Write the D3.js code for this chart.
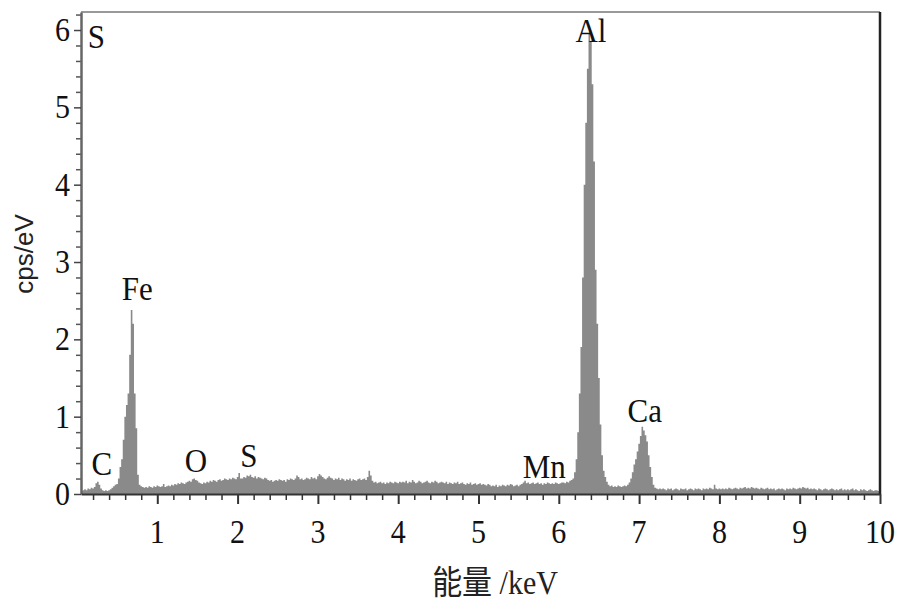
<!DOCTYPE html>
<html>
<head>
<meta charset="utf-8">
<script src="https://cdn.jsdelivr.net/npm/d3@7"></script>
<style>
  body { margin: 0; background: #fff; }
  svg { display: block; }
</style>
</head>
<body>
<div id="chart"></div>
<script>
//EDS spectrum, counts per channel
var channelStart = 0.05;   // keV of first channel
var channelWidth = 0.02;   // keV per channel

var counts = [
  // 0.05 - 0.55
  0.04,0.05,0.06,0.05,0.07,0.06,0.08,0.07,0.09,0.14,0.16,0.12,0.07,0.05,0.04,0.05,0.04,0.05,0.06,0.08,0.10,0.12,0.13,0.20,0.35,
  // 0.55 - 1.05  (Fe)
  0.45,0.70,1.00,1.15,1.30,1.80,2.38,2.20,1.30,0.85,0.25,0.12,0.10,0.09,0.08,0.09,0.08,0.10,0.09,0.08,0.10,0.09,0.11,0.10,0.09,
  // 1.05 - 1.55  (O)
  0.10,0.13,0.09,0.10,0.11,0.10,0.12,0.11,0.13,0.12,0.14,0.13,0.15,0.14,0.13,0.15,0.16,0.17,0.16,0.19,0.20,0.18,0.17,0.15,0.14,
  // 1.55 - 2.05
  0.13,0.15,0.14,0.16,0.15,0.17,0.16,0.18,0.17,0.16,0.18,0.19,0.17,0.18,0.20,0.19,0.18,0.20,0.19,0.21,0.20,0.19,0.22,0.27,0.20,
  // 2.05 - 2.55  (S)
  0.20,0.22,0.21,0.24,0.23,0.25,0.22,0.21,0.23,0.20,0.22,0.21,0.20,0.19,0.21,0.20,0.18,0.17,0.18,0.16,0.17,0.18,0.17,0.19,0.18,
  // 2.55 - 3.05
  0.17,0.18,0.16,0.19,0.18,0.20,0.19,0.18,0.20,0.24,0.22,0.19,0.20,0.18,0.19,0.21,0.20,0.19,0.22,0.20,0.21,0.19,0.23,0.26,0.24,
  // 3.05 - 3.55
  0.22,0.20,0.19,0.21,0.23,0.21,0.20,0.18,0.20,0.19,0.21,0.18,0.20,0.19,0.17,0.19,0.18,0.20,0.17,0.19,0.18,0.17,0.19,0.20,0.18,
  // 3.55 - 4.05
  0.19,0.20,0.18,0.22,0.30,0.24,0.17,0.15,0.16,0.14,0.15,0.16,0.14,0.15,0.13,0.15,0.14,0.16,0.15,0.14,0.16,0.15,0.14,0.16,0.15,
  // 4.05 - 4.55
  0.16,0.15,0.17,0.14,0.16,0.15,0.18,0.16,0.14,0.15,0.17,0.16,0.14,0.15,0.16,0.17,0.15,0.14,0.16,0.15,0.17,0.16,0.14,0.15,0.16,
  // 4.55 - 5.05
  0.15,0.14,0.16,0.13,0.15,0.14,0.13,0.15,0.14,0.16,0.13,0.14,0.15,0.13,0.12,0.14,0.13,0.15,0.12,0.13,0.14,0.12,0.13,0.14,0.12,
  // 5.05 - 5.55
  0.13,0.12,0.11,0.13,0.12,0.10,0.11,0.10,0.12,0.09,0.11,0.10,0.12,0.11,0.10,0.12,0.11,0.13,0.12,0.10,0.11,0.12,0.10,0.12,0.13,
  // 5.55 - 6.05  (Mn)
  0.15,0.17,0.14,0.15,0.13,0.14,0.15,0.13,0.14,0.15,0.13,0.14,0.12,0.14,0.13,0.15,0.14,0.13,0.14,0.13,0.15,0.14,0.13,0.14,0.15,
  // 6.05 - 6.55  (Al)
  0.15,0.14,0.16,0.15,0.17,0.18,0.20,0.28,0.45,0.80,1.30,1.90,2.80,4.00,4.80,5.50,5.95,5.85,5.30,4.30,2.90,2.20,1.50,0.90,0.50,
  // 6.55 - 7.05  (Ca)
  0.30,0.22,0.16,0.12,0.10,0.11,0.09,0.10,0.09,0.11,0.10,0.09,0.10,0.11,0.10,0.12,0.15,0.20,0.28,0.38,0.45,0.55,0.65,0.75,0.87,
  // 7.05 - 7.55
  0.82,0.76,0.68,0.50,0.35,0.22,0.12,0.08,0.07,0.06,0.07,0.06,0.07,0.06,0.05,0.07,0.06,0.07,0.05,0.06,0.07,0.06,0.05,0.07,0.06,
  // 7.55 - 8.05
  0.06,0.07,0.05,0.06,0.07,0.06,0.05,0.07,0.06,0.07,0.06,0.05,0.07,0.06,0.07,0.06,0.08,0.07,0.06,0.12,0.07,0.06,0.07,0.06,0.07,
  // 8.05 - 8.55
  0.06,0.07,0.06,0.08,0.07,0.06,0.07,0.08,0.07,0.06,0.08,0.07,0.08,0.09,0.07,0.08,0.07,0.09,0.08,0.07,0.08,0.07,0.06,0.08,0.07,
  // 8.55 - 9.05
  0.06,0.07,0.08,0.06,0.07,0.06,0.07,0.05,0.06,0.07,0.06,0.07,0.06,0.05,0.07,0.06,0.07,0.06,0.08,0.07,0.06,0.07,0.08,0.07,0.09,
  // 9.05 - 9.55
  0.08,0.07,0.08,0.06,0.07,0.06,0.07,0.06,0.05,0.07,0.06,0.05,0.06,0.07,0.06,0.05,0.06,0.07,0.06,0.05,0.06,0.05,0.06,0.07,0.05,
  // 9.55 - 10.05
  0.06,0.05,0.06,0.05,0.06,0.07,0.05,0.06,0.05,0.04,0.06,0.05,0.06,0.05,0.04,0.05,0.06,0.05,0.04,0.05,0.05,0.04,0.05,0.04,0.05
];

var xTicks = [1, 2, 3, 4, 5, 6, 7, 8, 9, 10];
var yTicks = [0, 1, 2, 3, 4, 5, 6];

// element labels, placed in data coords (keV, cps)
var peakNames = ["S", "Al", "Fe", "C", "O", "S", "Mn", "Ca"];
var peakKeV   = [0.24, 6.40, 0.75, 0.31, 1.48, 2.14, 5.82, 7.07];
var peakCps   = [5.77, 5.85, 2.51, 0.25, 0.28, 0.35, 0.21, 0.93];

var W = 906, H = 610;
var margin = { top: 12, right: 26, bottom: 116, left: 81 };
var width = W - margin.left - margin.right;
var height = H - margin.top - margin.bottom;

var serif = "Liberation Serif";
var stretch = " scale(1,1.1)";  // print type in the source is a bit tall

var svg = d3.select("#chart").append("svg")
  .attr("width", W)
  .attr("height", H);

var g = svg.append("g")
  .attr("transform", "translate(" + margin.left + "," + margin.top + ")");

var x = d3.scaleLinear().domain([0.05, 10]).range([0, width]);
var y = d3.scaleLinear().domain([0, 6.233]).range([height, 0]);

// build channel points, step shape like a histogram
var points = counts.map(function(c, i) {
  return { e: channelStart + i * channelWidth, v: c };
});
points.push({ e: 10, v: counts[counts.length - 1] });

svg.append("defs").append("clipPath").attr("id", "clipper")
  .append("rect").attr("width", width).attr("height", height);

var area = d3.area()
  .curve(d3.curveStepAfter)
  .x(function(d) { return x(d.e); })
  .y0(y(0))
  .y1(function(d) { return y(d.v); });

g.append("path")
  .datum(points)
  .attr("clip-path", "url(#clipper)")
  .attr("fill", "#8a8a8a")
  .attr("d", area);

// frame: top grey, right dark
g.append("line")
  .attr("x1", 0).attr("x2", width).attr("y1", 0).attr("y2", 0)
  .attr("stroke", "#777").attr("stroke-width", 1.5);
g.append("line")
  .attr("x1", width).attr("x2", width).attr("y1", 0).attr("y2", height)
  .attr("stroke", "#222").attr("stroke-width", 2.5);

// minor ticks
var xMinor = d3.range(1, 50).map(function(i) { return i * 0.2; })
  .filter(function(v) { return Math.abs(v - Math.round(v)) > 1e-6; });
var yMinor = d3.range(1, 32).map(function(i) { return i * 0.2; })
  .filter(function(v) { return Math.abs(v - Math.round(v)) > 1e-6; });

g.append("g")
  .attr("transform", "translate(0," + height + ")")
  .call(d3.axisBottom(x).tickValues(xMinor).tickSize(6).tickFormat(""))
  .call(function(a) {
    a.select(".domain").remove();
    a.selectAll("line").attr("stroke", "#333").attr("stroke-width", 1.5);
  });

g.append("g")
  .call(d3.axisLeft(y).tickValues(yMinor).tickSize(5).tickFormat(""))
  .call(function(a) {
    a.select(".domain").remove();
    a.selectAll("line").attr("stroke", "#555").attr("stroke-width", 1.5);
  });

// Add the Y Axis (lines only, labels drawn below)
var yAxis = g.append("g")
  .attr("class", "y-axis")
  .call(d3.axisLeft(y).tickValues(yTicks).tickFormat("").tickSize(7).tickSizeOuter(0));
yAxis.select(".domain").attr("stroke", "#666").attr("stroke-width", 2.5);
yAxis.selectAll(".tick line").attr("stroke", "#444").attr("stroke-width", 1.5);

// Add the X Axis
var xAxis = g.append("g")
  .attr("class", "x-axis")
  .attr("transform", "translate(0," + height + ")")
  .call(d3.axisBottom(x).tickValues(xTicks).tickFormat("").tickSize(10).tickSizeOuter(0));
xAxis.select(".domain").attr("stroke", "#333").attr("stroke-width", 2);
xAxis.selectAll(".tick line").attr("stroke", "#333").attr("stroke-width", 2);

// tick labels as plain serif text
g.selectAll(".ylab")
  .data(yTicks)
  .enter().append("text")
  .attr("class", "ylab")
  .attr("transform", function(d) { return "translate(-11," + (y(d) + 11) + ")" + stretch; })
  .attr("text-anchor", "end")
  .attr("fill", "#111")
  .attr("font-family", serif)
  .attr("font-size", 30)
  .text(function(d) { return d; });

g.selectAll(".xlab")
  .data(xTicks)
  .enter().append("text")
  .attr("class", "xlab")
  .attr("transform", function(d) { return "translate(" + x(d) + "," + (height + 49) + ")" + stretch; })
  .attr("text-anchor", "middle")
  .attr("fill", "#111")
  .attr("font-family", serif)
  .attr("font-size", 30)
  .text(function(d) { return d; });

// element labels
g.selectAll(".peak")
  .data(peakNames)
  .enter().append("text")
  .attr("class", "peak")
  .attr("transform", function(d, i) {
    return "translate(" + x(peakKeV[i]) + "," + y(peakCps[i]) + ")" + stretch;
  })
  .attr("text-anchor", "middle")
  .attr("fill", "#111")
  .attr("font-family", serif)
  .attr("font-size", 31)
  .text(function(d) { return d; });

// axis titles
svg.append("text")
  .attr("transform", "translate(33," + (margin.top + height / 2 + 1) + ") rotate(-90)")
  .attr("text-anchor", "middle")
  .attr("fill", "#222")
  .attr("font-family", "Liberation Sans")
  .attr("font-size", 26)
  .text("cps/eV");

svg.append("text")
  .attr("transform", "translate(495,594)" + stretch)
  .attr("text-anchor", "middle")
  .attr("fill", "#222")
  .attr("font-family", "Liberation Serif, Noto Sans CJK SC")
  .attr("font-size", 30)
  .text("能量 /keV");
</script>
</body>
</html>
